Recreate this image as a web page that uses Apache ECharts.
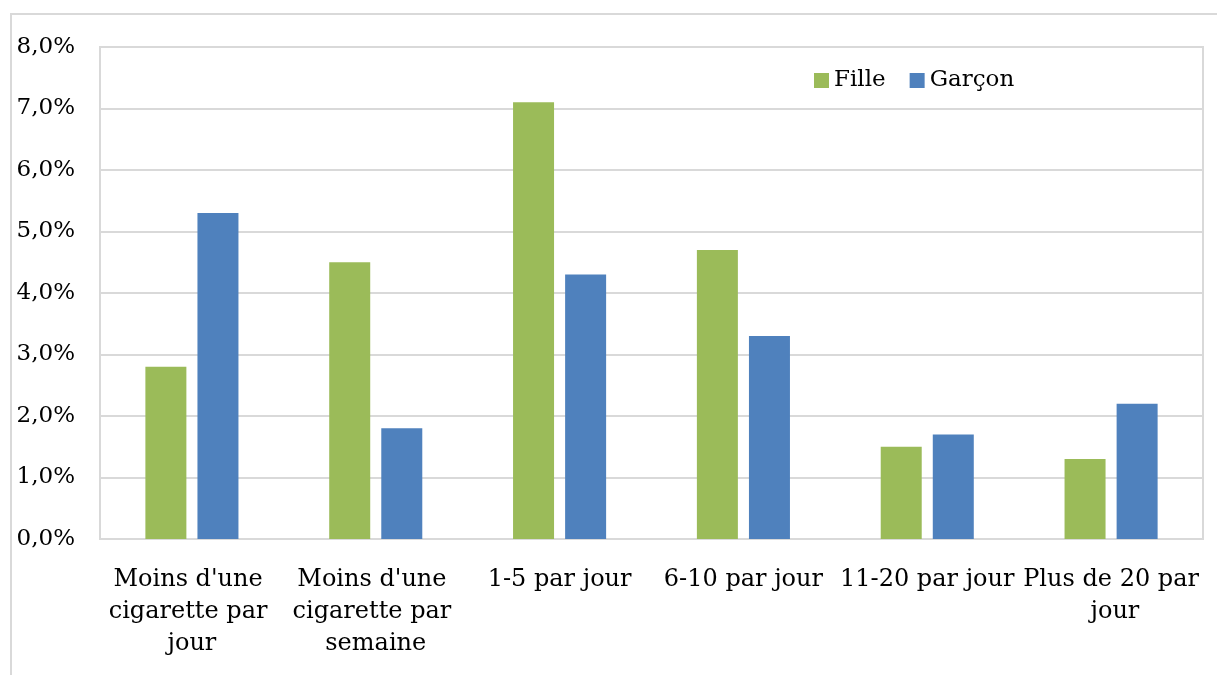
<!DOCTYPE html>
<html><head><meta charset="utf-8">
<script src="https://cdn.jsdelivr.net/npm/echarts@6/dist/echarts.min.js"></script>
<style>html,body{margin:0;padding:0;background:#fff}#c{width:1217px;height:675px}</style>
</head><body><div id="c"></div>
<script>
const categories = ["Moins d'une cigarette par jour","Moins d'une cigarette par semaine","1-5 par jour","6-10 par jour","11-20 par jour","Plus de 20 par jour"];
const fille = [2.8, 4.5, 7.1, 4.7, 1.5, 1.3];
const garcon = [5.3, 1.8, 4.3, 3.3, 1.7, 2.2];
const seriesNames = ["Fille","Garçon"];
const font = "DejaVu Serif";
const chart = echarts.init(document.getElementById('c'));
chart.setOption({
  animation:false,
  graphic:[{type:'rect',shape:{x:11,y:14,width:1215,height:670},style:{fill:'none',stroke:'#d9d9d9',lineWidth:2},silent:true}],
  legend:{data:seriesNames,left:809,top:64,itemWidth:15,itemHeight:15,itemGap:24,icon:'rect',
    textStyle:{fontFamily:font,fontSize:23,color:'#000'}},
  grid:{left:100,right:14,top:47,bottom:136,show:true,borderColor:'#d9d9d9',borderWidth:2},
  xAxis:{type:'category',data:categories,
    axisLine:{lineStyle:{color:'#d9d9d9',width:2}},axisTick:{show:false},
    axisLabel:{fontFamily:font,fontSize:24,color:'#000',interval:0,width:182,overflow:'break',lineHeight:32,margin:25}},
  yAxis:{type:'value',min:0,max:8,interval:1,
    splitLine:{lineStyle:{color:'#d9d9d9',width:2}},
    axisLabel:{fontFamily:font,fontSize:23,color:'#000',margin:25,formatter:v=>v.toFixed(1).replace('.',',')+'%'}},
  series:[
    {name:seriesNames[0],type:'bar',data:fille,barWidth:41,barGap:'27%',itemStyle:{color:'#9bbb59'}},
    {name:seriesNames[1],type:'bar',data:garcon,barWidth:41,itemStyle:{color:'#4f81bd'}}
  ]
});
</script></body></html>
